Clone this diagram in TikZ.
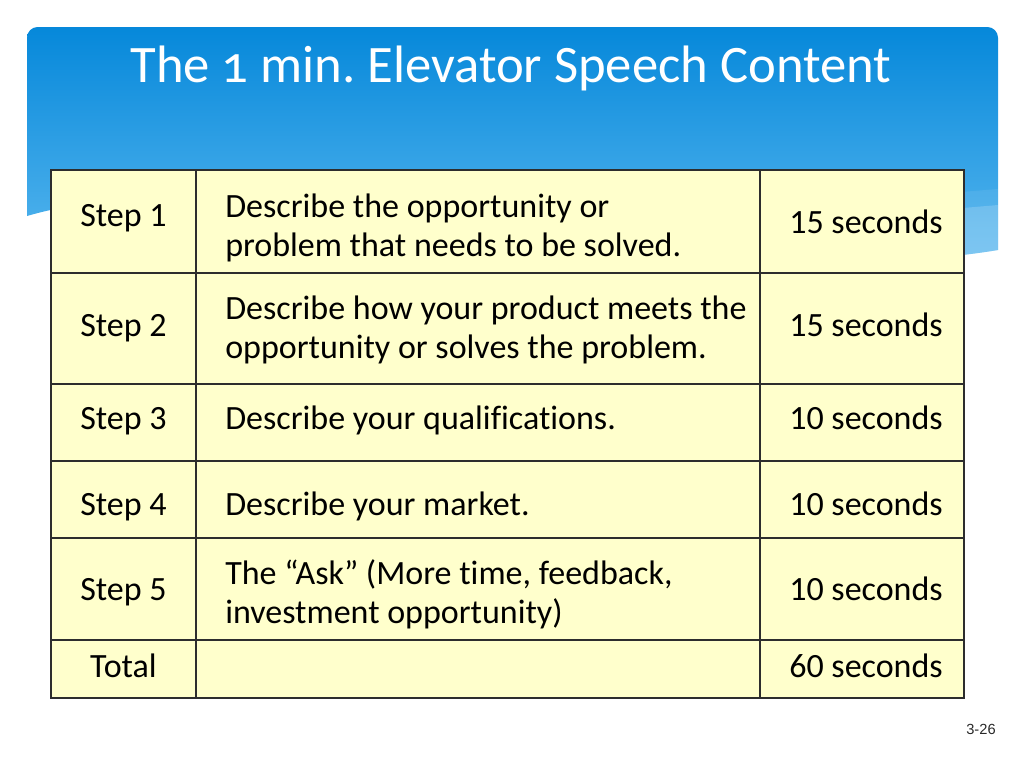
\documentclass[tikz,border=0pt]{standalone}
\usepackage{fontspec}
\setmainfont[Ligatures={NoCommon}]{Carlito}
\newfontfamily\titlefont[Numbers=OldStyle, Ligatures={NoCommon}]{Carlito}
\newfontfamily\pagefont{Liberation Sans}
\frenchspacing
\usetikzlibrary{positioning, calc}
\definecolor{esBlueTop}{RGB}{6, 136, 218}
\definecolor{esBlueBottom}{RGB}{100, 190, 242}
\definecolor{esCell}{RGB}{255, 255, 204}
\definecolor{esLine}{RGB}{45, 45, 45}
\definecolor{esGray}{RGB}{40, 40, 40}
\tikzset{
    base/.style={
        font=\fontsize{25.5}{29.25}\selectfont,
        text=black,
        inner sep=0pt
    },
    stepcell/.style={
        base,
        anchor=base
    },
    desccell/.style={
        base,
        anchor=base west
    },
    desctwo/.style={
        base,
        anchor=west,
        align=left
    },
    timecell/.style={
        base,
        anchor=base
    },
    banner/.style={
        top color=esBlueTop,
        bottom color=esBlueBottom
    },
    grid/.style={
        draw=esLine,
        line width=1.1pt
    },
    title/.style={
        font=\titlefont\fontsize{39.5}{44}\selectfont,
        text=white,
        inner sep=0pt,
        anchor=base
    }
}

\begin{document}
\begin{tikzpicture}[x=0.75pt, y=-0.75pt]
  \useasboundingbox (0,0) rectangle (1024,768);

  % Header banner
  \path[banner] (27,216) -- (27,100) [rounded corners=8pt] -- (27,27) -- (998,27) -- (998,100)
      [sharp corners] -- (998,250) .. controls (700,300) and (250,150) .. cycle;
  \begin{scope}
    \clip (27,216) -- (27,27) -- (998,27) -- (998,250) .. controls (700,300) and (250,150) .. cycle;
    \fill[white, opacity=0.08] (600,250) .. controls (800,205) .. (998,189) -- (998,320) -- (600,320) -- cycle;
    \fill[white, opacity=0.18] (600,262) .. controls (800,222) .. (998,205) -- (998,320) -- (600,320) -- cycle;
  \end{scope}
  \node[title] (head) at (511,82) {The 1 min. Elevator Speech Content};

  % Table
  \fill[esCell] (51,170) rectangle (964,698);
  \draw[grid] (51,170) rectangle (964,698);
  \draw[grid] (196,170) -- (196,698);
  \draw[grid] (760,170) -- (760,698);
  \draw[grid] (51,273) -- (964,273);
  \draw[grid] (51,384) -- (964,384);
  \draw[grid] (51,461) -- (964,461);
  \draw[grid] (51,538) -- (964,538);
  \draw[grid] (51,640) -- (964,640);

  % Steps
  \node[stepcell] (step1) at (123.5,226) {Step 1};
  \node[stepcell] (step2) at (123.5,336) {Step 2};
  \node[stepcell] (step3) at (123.5,429) {Step 3};
  \node[stepcell] (step4) at (123.5,515) {Step 4};
  \node[stepcell] (step5) at (123.5,600) {Step 5};
  \node[stepcell] (total) at (123.5,677) {Total};

  % Descriptions
  \node[desctwo] (desc1) at (225,228) {Describe the opportunity or\\problem that needs to be solved.};
  \node[desctwo] (desc2) at (225,330) {Describe how your product meets the\\opportunity or solves the problem.};
  \node[desccell] (desc3) at (225,429) {Describe your qualifications.};
  \node[desccell] (desc4) at (225,515) {Describe your market.};
  \node[desctwo] (desc5) at (225,594) {The “Ask” (More time, feedback,\\investment opportunity)};

  % Times
  \node[timecell] (time1) at (866,233) {15 seconds};
  \node[timecell] (time2) at (866,336) {15 seconds};
  \node[timecell] (time3) at (866,429) {10 seconds};
  \node[timecell] (time4) at (866,515) {10 seconds};
  \node[timecell] (time5) at (866,600) {10 seconds};
  \node[timecell] (timeT) at (866,677) {60 seconds};

  % Page number
  \node[font=\pagefont\fontsize{11}{13}\selectfont, text=esGray, anchor=base] (page) at (981,734) {3-26};
\end{tikzpicture}
\end{document}
